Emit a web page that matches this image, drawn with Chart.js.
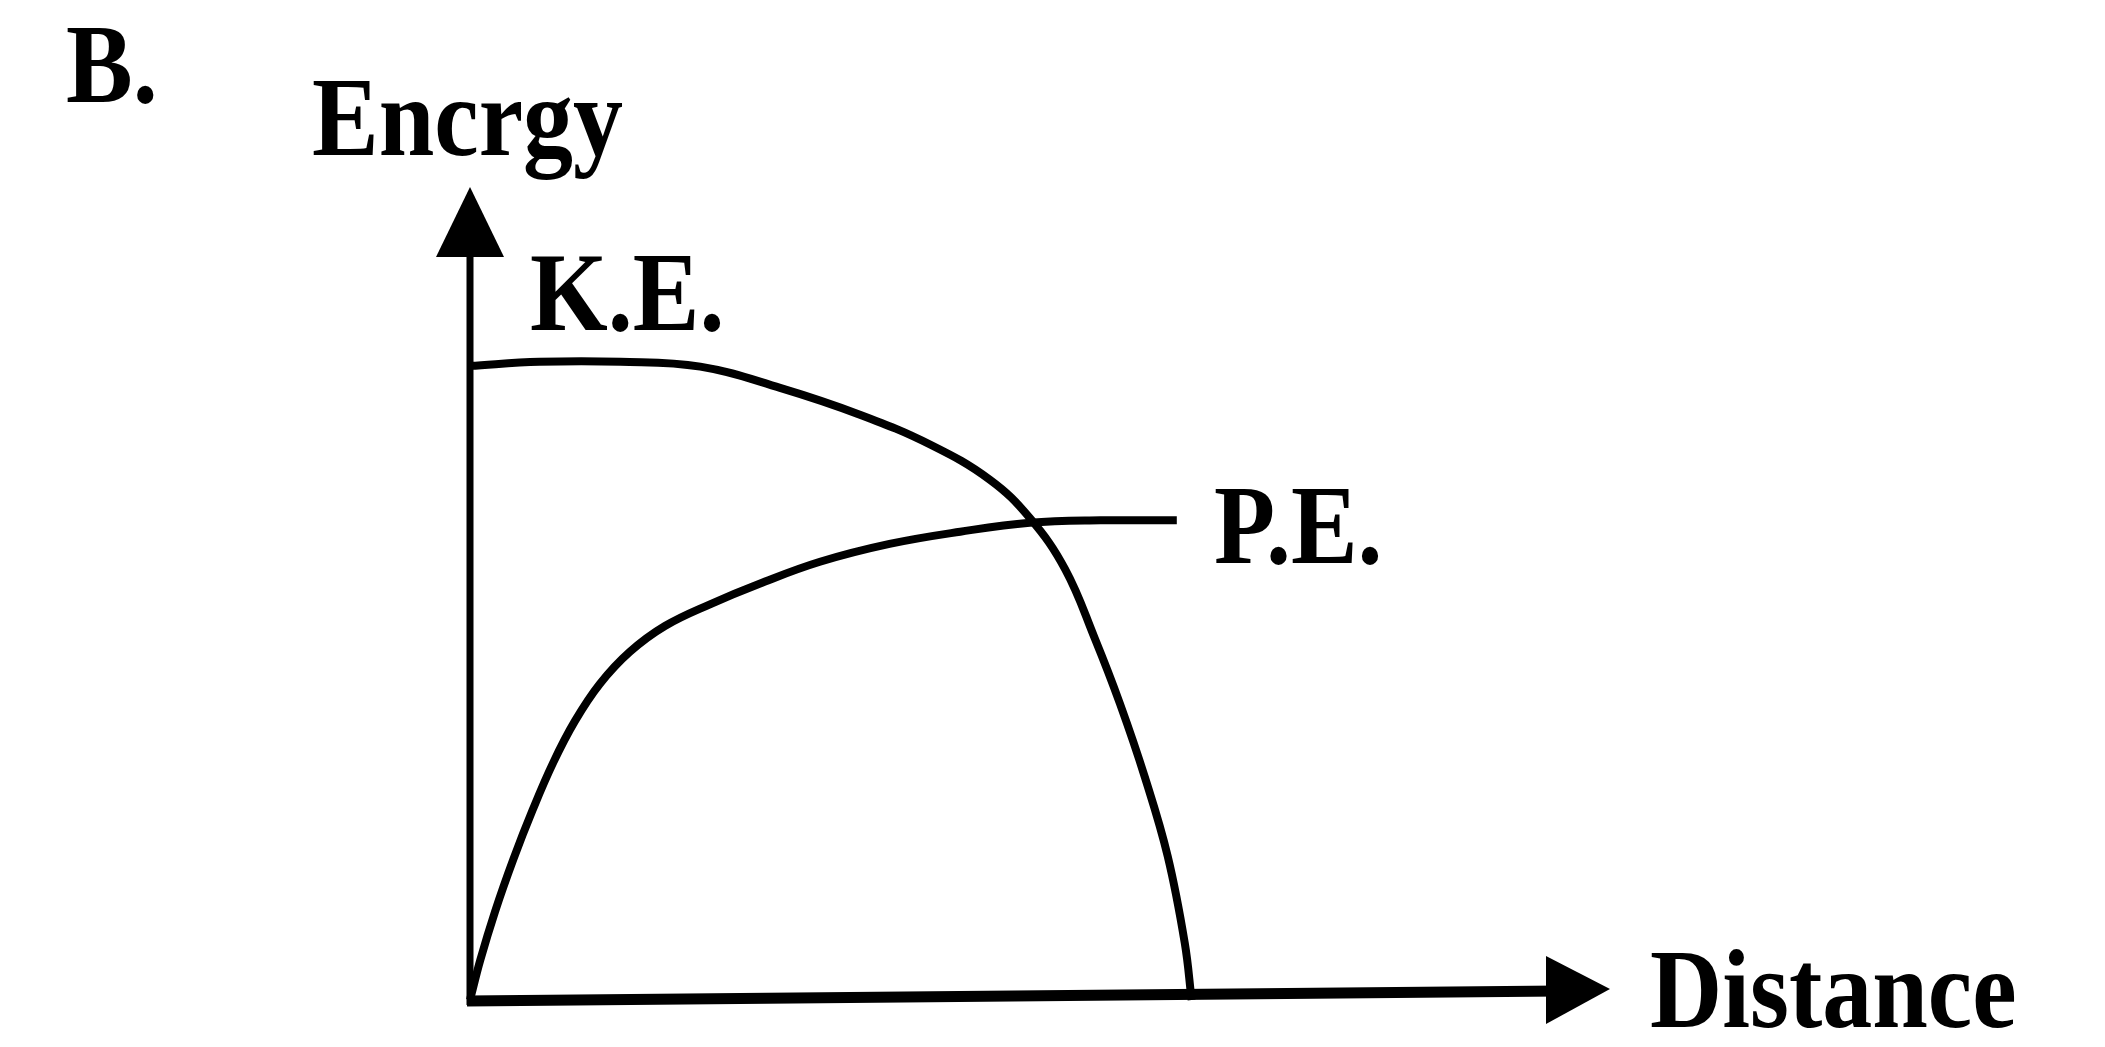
<!DOCTYPE html>
<html>
<head>
<meta charset="utf-8">
<title>Energy vs Distance</title>
<script src="https://cdn.jsdelivr.net/npm/chart.js@4.4.1/dist/chart.umd.min.js"></script>
<style>
  html, body { margin: 0; padding: 0; background: #fff; }
  #wrap { width: 2105px; height: 1047px; }
</style>
</head>
<body>
<div id="wrap"><canvas id="energyChart" width="2105" height="1047"></canvas></div>
<script>
// values (distance 0..10, energy 0..10)
const keDistance = [0, 0.61, 1.32, 2.02, 2.72, 3.42, 4.04, 4.56, 4.91, 5.22, 5.48, 5.7, 5.92, 6.12, 6.27, 6.33];
const keEnergy   = [7.8, 7.85, 7.85, 7.79, 7.53, 7.2, 6.83, 6.4, 5.93, 5.3, 4.45, 3.65, 2.74, 1.77, 0.7, 0];
const peDistance = [0, 0.09, 0.22, 0.38, 0.55, 0.73, 0.92, 1.14, 1.4, 1.71, 2.11, 2.54, 3.07, 3.68, 4.3, 4.91, 5.53, 6.2];
const peEnergy   = [0, 0.49, 1.09, 1.73, 2.34, 2.92, 3.43, 3.89, 4.28, 4.6, 4.87, 5.12, 5.39, 5.61, 5.76, 5.87, 5.9, 5.9];

const xLabel = "Distance";
const yLabel = "Encrgy";
const keLabel = "K.E.";
const peLabel = "P.E.";
const partLabel = "B.";

function toPoints(xs, ys) {
    return xs.map((x, i) => ({ x: x, y: ys[i] }));
}

// hand drawn axes with arrow heads
const arrowAxes = {
    id: "arrowAxes",
    beforeDatasetsDraw(chart) {
        const ctx = chart.ctx;
        const xs = chart.scales.x, ys = chart.scales.y;
        const x0 = xs.getPixelForValue(0), y0 = ys.getPixelForValue(0);
        const xEnd = xs.getPixelForValue(10), yEnd = ys.getPixelForValue(10);
        ctx.save();
        ctx.strokeStyle = "#000";
        ctx.fillStyle = "#000";
        ctx.lineCap = "butt";

        // y axis
        ctx.lineWidth = 7;
        ctx.beginPath();
        ctx.moveTo(x0, y0 + 5);
        ctx.lineTo(x0, yEnd + 50);
        ctx.stroke();
        ctx.beginPath();
        ctx.moveTo(x0, yEnd);
        ctx.lineTo(x0 - 34, yEnd + 70);
        ctx.lineTo(x0 + 34, yEnd + 70);
        ctx.closePath();
        ctx.fill();

        // x axis, rising a little toward the arrow
        ctx.lineWidth = 11;
        ctx.beginPath();
        ctx.moveTo(x0 - 3, y0 + 1);
        ctx.lineTo(xEnd - 50, y0 - 9);
        ctx.stroke();
        ctx.beginPath();
        ctx.moveTo(xEnd, y0 - 11);
        ctx.lineTo(xEnd - 64, y0 - 44);
        ctx.lineTo(xEnd - 64, y0 + 24);
        ctx.closePath();
        ctx.fill();
        ctx.restore();
    }
};

// serif labels, slightly stretched like the scanned type
const sketchLabels = {
    id: "sketchLabels",
    afterDraw(chart) {
        const ctx = chart.ctx;
        const items = [
            [partLabel, 66, 102],
            [yLabel, 312, 155],
            [keLabel, 530, 330],
            [peLabel, 1214, 563],
            [xLabel, 1650, 1027]
        ];
        ctx.save();
        ctx.fillStyle = "#000";
        ctx.font = "bold 100px 'Liberation Serif', 'Times New Roman', serif";
        ctx.textBaseline = "alphabetic";
        ctx.textAlign = "left";
        items.forEach(([txt, x, y]) => {
            ctx.save();
            ctx.translate(x, y);
            ctx.scale(1, 1.13);
            ctx.fillText(txt, 0, 0);
            ctx.restore();
        });
        ctx.restore();
    }
};

new Chart(document.getElementById("energyChart"), {
    type: "scatter",
    data: {
        datasets: [{
            label: keLabel,
            data: toPoints(keDistance, keEnergy),
            showLine: true,
            borderColor: "#000",
            borderWidth: 8,
            pointRadius: 0,
            tension: 0.4,
            clip: false
        }, {
            label: peLabel,
            data: toPoints(peDistance, peEnergy),
            showLine: true,
            borderColor: "#000",
            borderWidth: 8,
            pointRadius: 0,
            tension: 0.4,
            clip: false
        }]
    },
    options: {
        responsive: false,
        animation: false,
        devicePixelRatio: 1,
        layout: { padding: { left: 470, right: 495, top: 187, bottom: 47 } },
        plugins: {
            legend: { display: false },
            tooltip: { enabled: false }
        },
        scales: {
            x: { type: "linear", min: 0, max: 10, display: false },
            y: { type: "linear", min: 0, max: 10, display: false }
        }
    },
    plugins: [arrowAxes, sketchLabels]
});
</script>
</body>
</html>
